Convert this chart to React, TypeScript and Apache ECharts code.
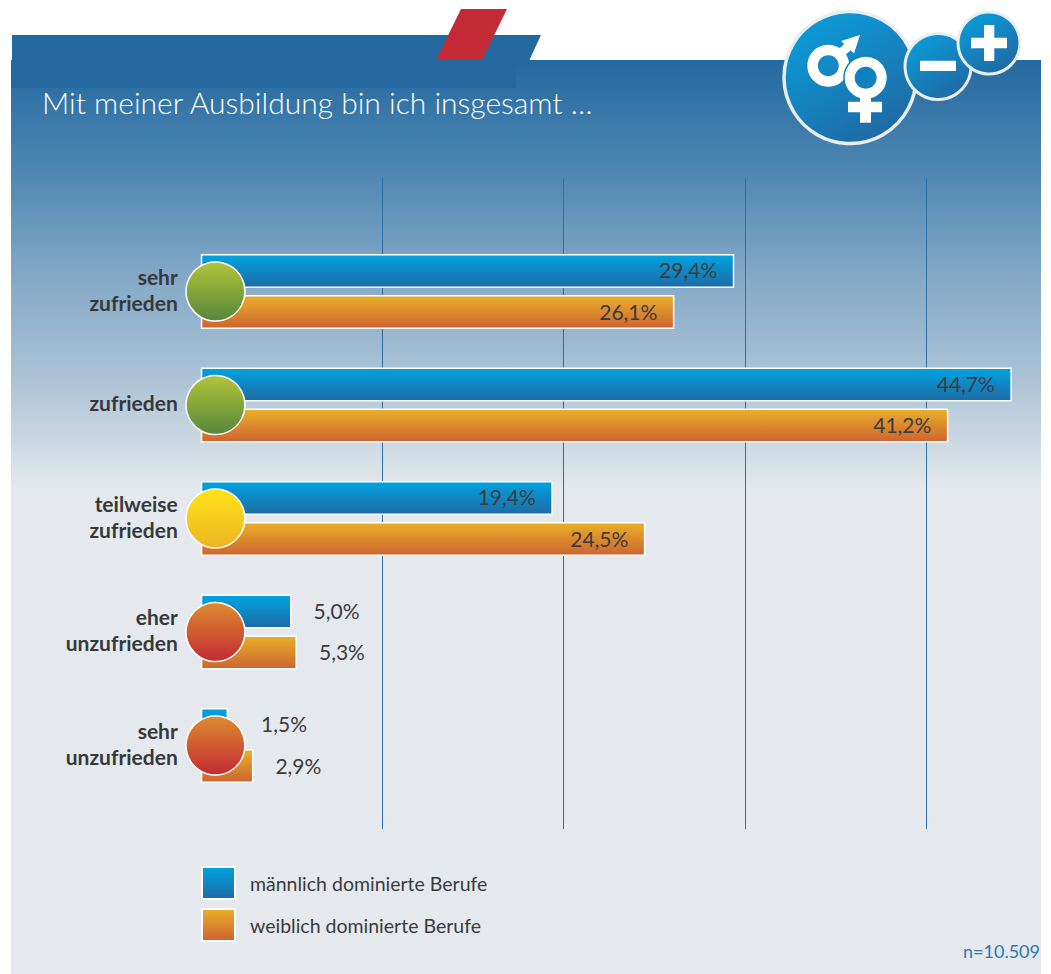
import React, { useEffect, useRef } from "react";
import * as echarts from "echarts";

const titleText = "Mit meiner Ausbildung bin ich insgesamt …";
const categories = ["sehr\nzufrieden", "zufrieden", "teilweise\nzufrieden", "eher\nunzufrieden", "sehr\nunzufrieden"];
const maleName = "männlich dominierte Berufe";
const femaleName = "weiblich dominierte Berufe";
const maleValues = [29.4, 44.7, 19.4, 5.0, 1.5];
const femaleValues = [26.1, 41.2, 24.5, 5.3, 2.9];
const maleOutsideGap = [0, 0, 0, 23, 34];
const femaleOutsideGap = [0, 0, 0, 23, 23];
const markerTone = ["good", "good", "mid", "bad", "bad"];
const markerX = 0.81;
const sampleNote = "n=10.509";

const FONT = "Lato, 'Open Sans', sans-serif";
const grad = (a: string, b: string, x2 = 0, y2 = 1) => ({
  type: "linear", x: 0, y: 0, x2, y2,
  colorStops: [{ offset: 0, color: a }, { offset: 1, color: b }],
});
const toneFill: Record<string, any> = {
  good: grad("#B2C43A", "#56873A"),
  mid: grad("#FFE318", "#EDB525"),
  bad: grad("#DC8D30", "#C32A33"),
};
const fmt = (v: number) => v.toFixed(1).replace(".", ",") + "%";

const barData = (values: number[], gaps: number[]) =>
  values.map((v, i) => ({
    value: v,
    label: gaps[i] > 0
      ? { show: true, position: "right", distance: gaps[i], offset: [-1, -1], formatter: fmt(v) }
      : { show: true, position: "insideRight", distance: 16, offset: [-1, -1], formatter: fmt(v) },
  }));

const iconFill = grad("#08A2DF", "#1F6BA6", 0.6, 1);
const iconStroke = "#E9EEF1";
const white = { fill: "#FFFFFF" };

const graphicElements: any[] = [
  { type: "polygon", z: -30, shape: { points: [[12, 35], [541, 35], [529, 61], [12, 61]] }, style: { fill: "#23699F" } },
  { type: "rect", z: -30, shape: { x: 11, y: 60, width: 1030, height: 914 }, style: {
    fill: { type: "linear", x: 0, y: 0, x2: 0, y2: 1, colorStops: [
      { offset: 0, color: "#23699F" },
      { offset: 0.13, color: "#5289B3" },
      { offset: 0.22, color: "#7DA4C4" },
      { offset: 0.36, color: "#B0C6D7" },
      { offset: 0.47, color: "#E5E9ED" },
      { offset: 1, color: "#E5E9ED" },
    ] },
  } },
  { type: "rect", z: -29, shape: { x: 11, y: 60, width: 505, height: 28 }, style: { fill: "#23699F" } },
  { type: "polygon", z: -28, shape: { points: [[461, 9], [507, 9], [482, 60], [436, 60]] }, style: { fill: "#C32A35" } },
  { type: "circle", z: 20, shape: { cx: 850, cy: 77.5, r: 66 }, style: { fill: iconFill, stroke: iconStroke, lineWidth: 3.5 } },
  { type: "circle", z: 21, shape: { cx: 938, cy: 66.5, r: 33 }, style: { fill: iconFill, stroke: iconStroke, lineWidth: 3 } },
  { type: "circle", z: 22, shape: { cx: 989, cy: 43, r: 31 }, style: { fill: iconFill, stroke: iconStroke, lineWidth: 3 } },
  { type: "rect", z: 23, shape: { x: 920, y: 60.7, width: 36, height: 10.3 }, style: white },
  { type: "rect", z: 23, shape: { x: 971, y: 37.7, width: 36, height: 10.6 }, style: white },
  { type: "rect", z: 23, shape: { x: 984, y: 25, width: 10.3, height: 36 }, style: white },
  { type: "ring", z: 23, shape: { cx: 828.3, cy: 65.7, r: 21, r0: 10.5 }, style: white },
  { type: "line", z: 23, shape: { x1: 841, y1: 53, x2: 851, y2: 44 }, style: { stroke: "#FFFFFF", lineWidth: 9 } },
  { type: "polygon", z: 23, shape: { points: [[860, 35], [841, 41], [854, 53.5]] }, style: white },
  { type: "circle", z: 24, shape: { cx: 865.7, cy: 77.7, r: 22.5 }, style: { fill: "#1180BE" } },
  { type: "ring", z: 25, shape: { cx: 865.7, cy: 77.7, r: 21, r0: 11 }, style: white },
  { type: "rect", z: 25, shape: { x: 860, y: 97, width: 11, height: 25.7 }, style: white },
  { type: "rect", z: 25, shape: { x: 848, y: 101.7, width: 34, height: 10.6 }, style: white },
  { type: "text", z: 25, style: { x: 1040, y: 951, text: sampleNote, align: "right", verticalAlign: "middle", fill: "#2F77AB", font: `18px ${FONT}` } },
];

const option: any = {
  animation: false,
  title: { text: titleText, left: 42, top: 87, padding: 0, textStyle: { color: "#FFFFFF", fontFamily: FONT, fontWeight: 300, fontSize: 30 } },
  legend: {
    data: [maleName, femaleName], orient: "vertical", left: 201, top: 866, padding: 0,
    itemWidth: 33, itemHeight: 32, itemGap: 8, selectedMode: false, icon: "rect",
    textStyle: { color: "#3B3B3D", fontFamily: FONT, fontSize: 19.5, padding: [0, 0, 0, 10] },
  },
  grid: [
    { left: 200.8, top: 234.75, width: 816.5, height: 567.5 },
    { left: 200.8, top: 178, width: 816.5, height: 651 },
    { left: 200.8, top: 232.25, width: 816.5, height: 567.5 },
  ],
  xAxis: [
    { type: "value", gridIndex: 0, min: 0, max: 45, interval: 10, show: false, splitLine: { show: false } },
    { type: "value", gridIndex: 1, min: 0, max: 45, interval: 10,
      axisLine: { show: false }, axisTick: { show: false }, axisLabel: { show: false },
      splitLine: { show: true, showMinLine: false, showMaxLine: false, lineStyle: { color: "#2D70A8", width: 1 } } },
    { type: "value", gridIndex: 2, min: 0, max: 45, interval: 10, show: false, splitLine: { show: false } },
  ],
  yAxis: [
    { type: "category", gridIndex: 0, data: categories, inverse: true, show: false },
    { type: "category", gridIndex: 1, data: [], show: false },
    { type: "category", gridIndex: 2, data: categories, inverse: true,
      axisLine: { show: false }, axisTick: { show: false }, splitLine: { show: false },
      axisLabel: { margin: 23, align: "right", color: "#37383A", fontFamily: FONT, fontWeight: "bold", fontSize: 21, lineHeight: 26 } },
  ],
  series: [
    { type: "bar", name: "axis", xAxisIndex: 1, yAxisIndex: 1, data: [] },
    { type: "bar", name: "labels", xAxisIndex: 2, yAxisIndex: 2, data: [] },
    {
      type: "bar", name: maleName, xAxisIndex: 0, yAxisIndex: 0, barWidth: 34, barGap: "21%", z: 3,
      data: barData(maleValues, maleOutsideGap),
      itemStyle: { color: grad("#00A3E0", "#1F6BA6"), borderColor: "#FFFFFF", borderWidth: 1.5 },
      label: { color: "#3B3B3D", fontFamily: FONT, fontSize: 21 },
    },
    {
      type: "bar", name: femaleName, xAxisIndex: 0, yAxisIndex: 0, barWidth: 34, barGap: "21%", z: 3,
      data: barData(femaleValues, femaleOutsideGap),
      itemStyle: { color: grad("#E9AF2A", "#CD6431"), borderColor: "#FFFFFF", borderWidth: 1.5 },
      label: { color: "#3B3B3D", fontFamily: FONT, fontSize: 21 },
    },
    {
      type: "scatter", name: "status", xAxisIndex: 0, yAxisIndex: 0, symbolSize: 59, z: 6,
      data: markerTone.map((t, i) => ({
        value: [markerX, i],
        itemStyle: { color: toneFill[t], borderColor: "#FFFFFF", borderWidth: 1.5, opacity: 1 },
      })),
    },
  ],
  graphic: { elements: graphicElements },
};

export default function App() {
  const ref = useRef<HTMLDivElement>(null);
  useEffect(() => {
    const chart = echarts.init(ref.current!, undefined, { renderer: "svg" });
    chart.setOption(option);
    return () => chart.dispose();
  }, []);
  return <div ref={ref} style={{ position: "fixed", left: 0, top: 0, width: 1051, height: 974, background: "#FFFFFF" }} />;
}
